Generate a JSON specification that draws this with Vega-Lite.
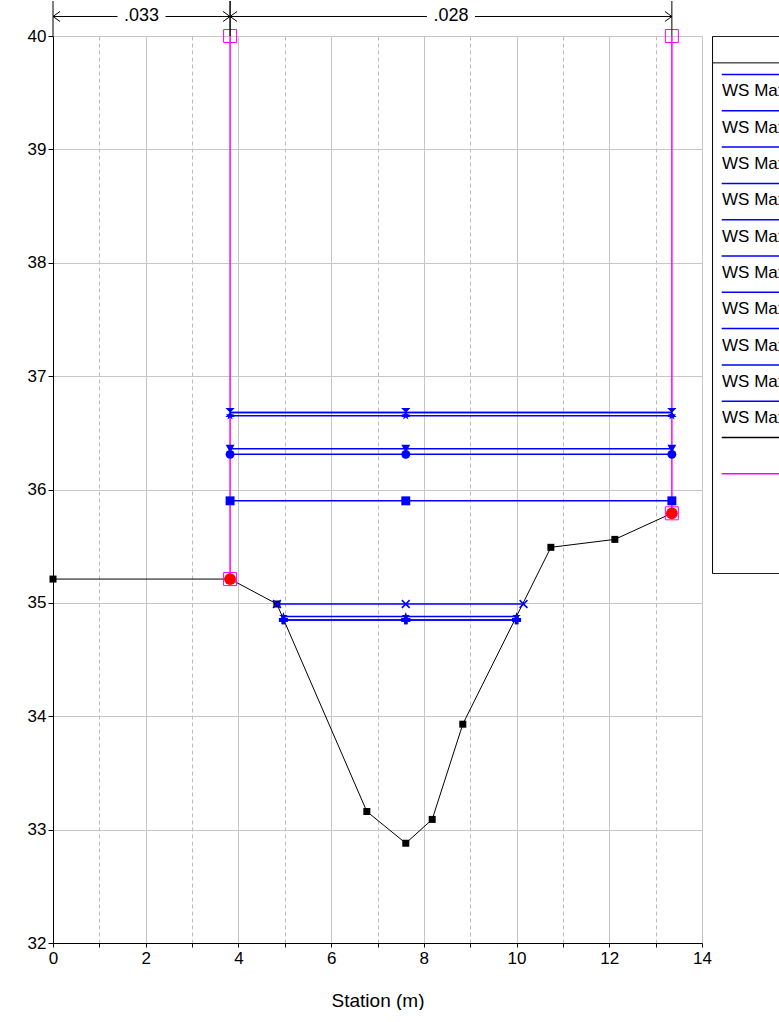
{
  "$schema": "https://vega.github.io/schema/vega-lite/v6.json",
  "padding": {"left": 27, "top": 0, "right": 0, "bottom": 0},
  "background": "white",
  "config": {
    "font": "Liberation Sans",
    "view": {"stroke": null},
    "axis": {"labelFont": "Liberation Sans", "titleFont": "Liberation Sans", "labelColor": "black", "titleColor": "black", "titleFontWeight": "normal", "domainColor": "black", "tickColor": "black"}
  },
  "datasets": {
    "ground": [
      {"station": 0, "elev": 35.21},
      {"station": 3.82, "elev": 35.21},
      {"station": 4.83, "elev": 34.99},
      {"station": 6.77, "elev": 33.16},
      {"station": 7.61, "elev": 32.88},
      {"station": 8.18, "elev": 33.09},
      {"station": 8.84, "elev": 33.93},
      {"station": 10.74, "elev": 35.49},
      {"station": 12.12, "elev": 35.56},
      {"station": 13.35, "elev": 35.79}
    ],
    "bank": [
      {"station": 3.82, "elev": 35.21, "top": 40},
      {"station": 13.35, "elev": 35.79, "top": 40}
    ],
    "ws": [
      {"series": "WS Max WS - Plan 01", "station": 3.82, "elev": 36.68},
      {"series": "WS Max WS - Plan 01", "station": 7.61, "elev": 36.68},
      {"series": "WS Max WS - Plan 01", "station": 13.35, "elev": 36.68},
      {"series": "WS Max WS - Plan 02", "station": 3.82, "elev": 36.65},
      {"series": "WS Max WS - Plan 02", "station": 7.61, "elev": 36.65},
      {"series": "WS Max WS - Plan 02", "station": 13.35, "elev": 36.65},
      {"series": "WS Max WS - Plan 03", "station": 3.82, "elev": 36.36},
      {"series": "WS Max WS - Plan 03", "station": 7.61, "elev": 36.36},
      {"series": "WS Max WS - Plan 03", "station": 13.35, "elev": 36.36},
      {"series": "WS Max WS - Plan 04", "station": 3.82, "elev": 36.31},
      {"series": "WS Max WS - Plan 04", "station": 7.61, "elev": 36.31},
      {"series": "WS Max WS - Plan 04", "station": 13.35, "elev": 36.31},
      {"series": "WS Max WS - Plan 05", "station": 3.82, "elev": 35.9},
      {"series": "WS Max WS - Plan 05", "station": 7.61, "elev": 35.9},
      {"series": "WS Max WS - Plan 05", "station": 13.35, "elev": 35.9},
      {"series": "WS Max WS - Plan 06", "station": 4.83, "elev": 34.99},
      {"series": "WS Max WS - Plan 06", "station": 7.61, "elev": 34.99},
      {"series": "WS Max WS - Plan 06", "station": 10.15, "elev": 34.99},
      {"series": "WS Max WS - Plan 07", "station": 4.97, "elev": 34.88},
      {"series": "WS Max WS - Plan 07", "station": 7.61, "elev": 34.88},
      {"series": "WS Max WS - Plan 07", "station": 10.0, "elev": 34.88},
      {"series": "WS Max WS - Plan 08", "station": 4.97, "elev": 34.85},
      {"series": "WS Max WS - Plan 08", "station": 7.61, "elev": 34.85},
      {"series": "WS Max WS - Plan 08", "station": 10.0, "elev": 34.85},
      {"series": "WS Max WS - Plan 09", "station": 4.97, "elev": 34.85},
      {"series": "WS Max WS - Plan 09", "station": 7.61, "elev": 34.85},
      {"series": "WS Max WS - Plan 09", "station": 10.0, "elev": 34.85},
      {"series": "WS Max WS - Plan 10", "station": 3.82, "elev": 36.68},
      {"series": "WS Max WS - Plan 10", "station": 7.61, "elev": 36.68},
      {"series": "WS Max WS - Plan 10", "station": 13.35, "elev": 36.68}
    ],
    "nzones": [
      {"n": ".033", "from": 0, "to": 3.82},
      {"n": ".028", "from": 3.82, "to": 13.35}
    ],
    "legend": [
      {"label": "WS Max WS - Plan 01", "kind": "WS", "rank": 1},
      {"label": "WS Max WS - Plan 02", "kind": "WS", "rank": 2},
      {"label": "WS Max WS - Plan 03", "kind": "WS", "rank": 3},
      {"label": "WS Max WS - Plan 04", "kind": "WS", "rank": 4},
      {"label": "WS Max WS - Plan 05", "kind": "WS", "rank": 5},
      {"label": "WS Max WS - Plan 06", "kind": "WS", "rank": 6},
      {"label": "WS Max WS - Plan 07", "kind": "WS", "rank": 7},
      {"label": "WS Max WS - Plan 08", "kind": "WS", "rank": 8},
      {"label": "WS Max WS - Plan 09", "kind": "WS", "rank": 9},
      {"label": "WS Max WS - Plan 10", "kind": "WS", "rank": 10},
      {"label": "Ground", "kind": "Ground", "rank": 11},
      {"label": "Bank Sta", "kind": "Bank Sta", "rank": 12}
    ]
  },
  "bounds": "flush",
  "spacing": 10,
  "hconcat": [
    {
      "width": 649,
      "height": 907,
      "resolve": {"scale": {"shape": "independent"}},
      "layer": [
        {
          "data": {"name": "ground"},
          "mark": {"type": "line", "color": "black", "strokeWidth": 1},
          "encoding": {
            "x": {"field": "station", "type": "quantitative", "title": "Station (m)",
              "scale": {"domain": [0, 14], "nice": false, "zero": false},
              "axis": {
                "values": [0,1,2,3,4,5,6,7,8,9,10,11,12,13,14],
                "format": "d",
                "labelExpr": "datum.value % 2 == 0 ? datum.label : ''",
                "labelOverlap": false, "labelFlush": false,
                "labelFontSize": 17, "labelPadding": 3, "tickSize": 4,
                "titleFontSize": 19, "titlePadding": 25,
                "grid": true,
                "gridColor": {"condition": {"test": "datum.value % 2 == 0", "value": "#c6c6c6"}, "value": "#bcbcbc"},
                "gridDash": {"condition": {"test": "datum.value % 2 == 0", "value": []}, "value": [4, 3]}
              }
            },
            "y": {"field": "elev", "type": "quantitative", "title": null,
              "scale": {"domain": [32, 40], "nice": false, "zero": false},
              "axis": {
                "values": [32,32.5,33,33.5,34,34.5,35,35.5,36,36.5,37,37.5,38,38.5,39,39.5,40],
                "format": "d",
                "labelExpr": "datum.value % 1 == 0 ? datum.label : ''",
                "labelOverlap": false, "labelFlush": false,
                "labelFontSize": 17, "labelPadding": 2, "tickSize": 5,
                "tickOpacity": {"condition": {"test": "datum.value % 1 == 0", "value": 1}, "value": 0},
                "grid": true,
                "gridColor": {"condition": {"test": "datum.value % 1 == 0", "value": "#c6c6c6"}, "value": "#bcbcbc"},
                "gridDash": {"condition": {"test": "datum.value % 1 == 0", "value": []}, "value": [4, 3]}
              }
            }
          }
        },
        {
          "data": {"name": "bank"},
          "mark": {"type": "rule", "color": "#ff00ff", "strokeWidth": 1.5},
          "encoding": {
            "x": {"field": "station", "type": "quantitative", "title": "Station (m)", "scale": {"domain": [0, 14], "nice": false, "zero": false}},
            "y": {"field": "elev", "type": "quantitative", "title": null, "scale": {"domain": [32, 40], "nice": false, "zero": false}},
            "y2": {"field": "top"}
          }
        },
        {
          "data": {"name": "ground"},
          "mark": {"type": "square", "color": "black", "size": 49, "opacity": 1},
          "encoding": {
            "x": {"field": "station", "type": "quantitative", "title": "Station (m)", "scale": {"domain": [0, 14], "nice": false, "zero": false}},
            "y": {"field": "elev", "type": "quantitative", "title": null, "scale": {"domain": [32, 40], "nice": false, "zero": false}}
          }
        },
        {
          "data": {"name": "ws"},
          "mark": {"type": "line", "color": "#0000ff", "strokeWidth": 1.5},
          "encoding": {
            "x": {"field": "station", "type": "quantitative", "title": "Station (m)", "scale": {"domain": [0, 14], "nice": false, "zero": false}},
            "y": {"field": "elev", "type": "quantitative", "title": null, "scale": {"domain": [32, 40], "nice": false, "zero": false}},
            "detail": {"field": "series", "type": "nominal"}
          }
        },
        {
          "data": {"name": "ws"},
          "mark": {"type": "point", "filled": true, "color": "#0000ff", "size": 80, "opacity": 1},
          "encoding": {
            "x": {"field": "station", "type": "quantitative", "title": "Station (m)", "scale": {"domain": [0, 14], "nice": false, "zero": false}},
            "y": {"field": "elev", "type": "quantitative", "title": null, "scale": {"domain": [32, 40], "nice": false, "zero": false}},
            "shape": {"field": "series", "type": "nominal", "legend": null,
              "scale": {
                "domain": ["WS Max WS - Plan 01","WS Max WS - Plan 02","WS Max WS - Plan 03","WS Max WS - Plan 04","WS Max WS - Plan 05","WS Max WS - Plan 06","WS Max WS - Plan 07","WS Max WS - Plan 08","WS Max WS - Plan 09","WS Max WS - Plan 10"],
                "range": ["M-1,-1L1,-1L-1,1L1,1Z", "M0,-1L0.235,-0.324L0.951,-0.309L0.38,0.124L0.588,0.809L0,0.4L-0.588,0.809L-0.38,0.124L-0.951,-0.309L-0.235,-0.324Z", "triangle-down", "circle", "square", "M-1,-0.75L-0.75,-1L0,-0.25L0.75,-1L1,-0.75L0.25,0L1,0.75L0.75,1L0,0.25L-0.75,1L-1,0.75L-0.25,0Z", "M0,-1L0.235,-0.324L0.951,-0.309L0.38,0.124L0.588,0.809L0,0.4L-0.588,0.809L-0.38,0.124L-0.951,-0.309L-0.235,-0.324Z", "cross", "cross", "M-1,-1L1,-1L-1,1L1,1Z"]
              }
            }
          }
        },
        {
          "data": {"name": "bank"},
          "mark": {"type": "point", "shape": "square", "filled": false, "color": "#ff00ff", "size": 169, "strokeWidth": 1, "opacity": 1},
          "encoding": {
            "x": {"field": "station", "type": "quantitative", "title": "Station (m)", "scale": {"domain": [0, 14], "nice": false, "zero": false}},
            "y": {"field": "top", "type": "quantitative", "title": null, "scale": {"domain": [32, 40], "nice": false, "zero": false}}
          }
        },
        {
          "data": {"name": "bank"},
          "mark": {"type": "point", "shape": "square", "filled": false, "color": "#ff00ff", "size": 169, "strokeWidth": 1, "opacity": 1},
          "encoding": {
            "x": {"field": "station", "type": "quantitative", "title": "Station (m)", "scale": {"domain": [0, 14], "nice": false, "zero": false}},
            "y": {"field": "elev", "type": "quantitative", "title": null, "scale": {"domain": [32, 40], "nice": false, "zero": false}}
          }
        },
        {
          "data": {"name": "bank"},
          "mark": {"type": "circle", "color": "#ff0000", "size": 140, "opacity": 1},
          "encoding": {
            "x": {"field": "station", "type": "quantitative", "title": "Station (m)", "scale": {"domain": [0, 14], "nice": false, "zero": false}},
            "y": {"field": "elev", "type": "quantitative", "title": null, "scale": {"domain": [32, 40], "nice": false, "zero": false}}
          }
        },
        {
          "data": {"name": "nzones"},
          "transform": [{"fold": ["from", "to"], "as": ["end", "station"]}],
          "mark": {"type": "rule", "color": "black", "strokeWidth": 1},
          "encoding": {
            "x": {"field": "station", "type": "quantitative", "title": "Station (m)", "scale": {"domain": [0, 14], "nice": false, "zero": false}},
            "y": {"datum": 40, "type": "quantitative", "title": null, "scale": {"domain": [32, 40], "nice": false, "zero": false}},
            "y2": {"datum": 40.309}
          }
        },
        {
          "data": {"name": "nzones"},
          "transform": [
            {"fold": ["from", "to"], "as": ["end", "station"]},
            {"joinaggregate": [{"op": "mean", "field": "station", "as": "mid"}], "groupby": ["n"]},
            {"filter": "datum.end == 'from'"}
          ],
          "mark": {"type": "rule", "color": "black", "strokeWidth": 1, "x2Offset": -24},
          "encoding": {
            "x": {"field": "station", "type": "quantitative", "title": "Station (m)", "scale": {"domain": [0, 14], "nice": false, "zero": false}},
            "x2": {"field": "mid"},
            "y": {"datum": 40.172, "type": "quantitative", "title": null, "scale": {"domain": [32, 40], "nice": false, "zero": false}}
          }
        },
        {
          "data": {"name": "nzones"},
          "transform": [
            {"fold": ["from", "to"], "as": ["end", "station"]},
            {"joinaggregate": [{"op": "mean", "field": "station", "as": "mid"}], "groupby": ["n"]},
            {"filter": "datum.end == 'to'"}
          ],
          "mark": {"type": "rule", "color": "black", "strokeWidth": 1, "x2Offset": 24},
          "encoding": {
            "x": {"field": "station", "type": "quantitative", "title": "Station (m)", "scale": {"domain": [0, 14], "nice": false, "zero": false}},
            "x2": {"field": "mid"},
            "y": {"datum": 40.172, "type": "quantitative", "title": null, "scale": {"domain": [32, 40], "nice": false, "zero": false}}
          }
        },
        {
          "data": {"name": "nzones"},
          "transform": [{"fold": ["from", "to"], "as": ["end", "station"]}],
          "mark": {"type": "point", "filled": false, "color": "black", "strokeWidth": 1, "size": 100, "opacity": 1},
          "encoding": {
            "x": {"field": "station", "type": "quantitative", "title": "Station (m)", "scale": {"domain": [0, 14], "nice": false, "zero": false}},
            "y": {"datum": 40.172, "type": "quantitative", "title": null, "scale": {"domain": [32, 40], "nice": false, "zero": false}},
            "shape": {"field": "end", "type": "nominal", "legend": null,
              "scale": {"domain": ["from", "to"], "range": ["M1.4,-1L0,0L1.4,1", "M-1.4,-1L0,0L-1.4,1"]}}
          }
        },
        {
          "data": {"name": "nzones"},
          "transform": [
            {"fold": ["from", "to"], "as": ["end", "station"]},
            {"joinaggregate": [{"op": "mean", "field": "station", "as": "mid"}], "groupby": ["n"]},
            {"filter": "datum.end == 'from'"}
          ],
          "mark": {"type": "text", "color": "black", "fontSize": 18, "align": "center", "baseline": "middle"},
          "encoding": {
            "x": {"field": "mid", "type": "quantitative", "title": "Station (m)", "scale": {"domain": [0, 14], "nice": false, "zero": false}},
            "y": {"datum": 40.172, "type": "quantitative", "title": null, "scale": {"domain": [32, 40], "nice": false, "zero": false}},
            "text": {"field": "n"}
          }
        }
      ]
    },
    {
      "width": 67,
      "height": 538,
      "view": {"stroke": null},
      "data": {"name": "legend"},
      "layer": [
        {
          "mark": {"type": "rule", "strokeWidth": 1.5, "clip": true},
          "encoding": {
            "x": {"datum": 0.145, "type": "quantitative", "scale": {"domain": [0, 1], "nice": false, "zero": false}, "axis": null},
            "x2": {"datum": 1.5},
            "y": {"field": "rank", "type": "quantitative", "scale": {"domain": [-0.06, 14.76], "reverse": true, "nice": false, "zero": false}, "axis": null},
            "color": {"field": "kind", "type": "nominal", "legend": null,
              "scale": {"domain": ["WS", "Ground", "Bank Sta"], "range": ["#0000ff", "#000000", "#ff00ff"]}}
          }
        },
        {
          "transform": [{"filter": "datum.kind == 'WS'"}],
          "mark": {"type": "text", "align": "left", "baseline": "middle", "dy": 17, "fontSize": 17, "color": "black", "clip": true},
          "encoding": {
            "x": {"datum": 0.15, "type": "quantitative", "scale": {"domain": [0, 1], "nice": false, "zero": false}, "axis": null},
            "y": {"field": "rank", "type": "quantitative", "scale": {"domain": [-0.06, 14.76], "reverse": true, "nice": false, "zero": false}, "axis": null},
            "text": {"field": "label"}
          }
        },
        {
          "data": {"values": [{"edge": "header"}]},
          "mark": {"type": "rule", "color": "black", "strokeWidth": 1, "clip": true},
          "encoding": {
            "x": {"datum": 0, "type": "quantitative", "scale": {"domain": [0, 1], "nice": false, "zero": false}, "axis": null},
            "x2": {"datum": 1.5},
            "y": {"datum": 0.68, "type": "quantitative", "scale": {"domain": [-0.06, 14.76], "reverse": true, "nice": false, "zero": false}, "axis": null}
          }
        },
        {
          "data": {"values": [{"edge": "box"}]},
          "mark": {"type": "rect", "fill": null, "stroke": "black", "strokeWidth": 1, "clip": true},
          "encoding": {
            "x": {"datum": 0.008, "type": "quantitative", "scale": {"domain": [0, 1], "nice": false, "zero": false}, "axis": null},
            "x2": {"datum": 2},
            "y": {"datum": -0.05, "type": "quantitative", "scale": {"domain": [-0.06, 14.76], "reverse": true, "nice": false, "zero": false}, "axis": null},
            "y2": {"datum": 14.75}
          }
        }
      ]
    }
  ]
}
